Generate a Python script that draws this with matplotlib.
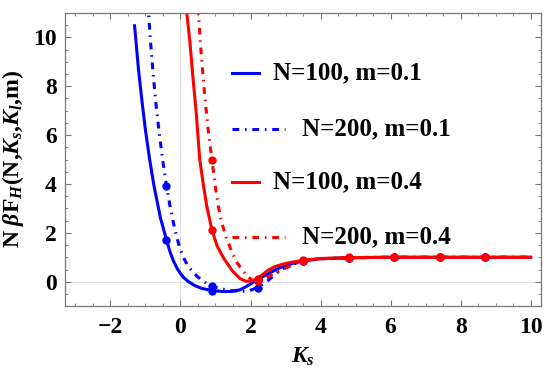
import numpy as np
import matplotlib
matplotlib.use("Agg")
import matplotlib.pyplot as plt
from matplotlib.ticker import MultipleLocator

plt.rcParams['font.family'] = ['Liberation Serif', 'DejaVu Serif']
plt.rcParams['font.weight'] = 'bold'
plt.rcParams['mathtext.fontset'] = 'custom'
plt.rcParams['mathtext.rm'] = 'Liberation Serif:bold'
plt.rcParams['mathtext.it'] = 'Liberation Serif:italic:bold'
plt.rcParams['mathtext.bf'] = 'Liberation Serif:bold'

# curves
ks_b100 = [-1.31, -1.2, -1.1, -1.0, -0.88, -0.76, -0.57, -0.4, -0.3, -0.2, -0.1, 0.0,
           0.1, 0.23, 0.4, 0.6, 0.9, 1.2, 1.45, 1.7, 1.9, 2.1, 2.4, 2.8, 3.2, 3.5,
           4.0, 4.8, 6.0, 10.0]
f_b100 = [10.47, 8.7, 7.4, 6.2, 5.0, 3.95, 2.6, 1.72, 1.23, 0.85, 0.56, 0.33,
          0.16, 0.0, -0.15, -0.27, -0.36, -0.4, -0.4, -0.33, -0.18, 0.0, 0.25, 0.55,
          0.75, 0.85, 0.94, 0.98, 1.0, 1.0]

ks_b200 = [-0.93, -0.86, -0.78, -0.71, -0.6, -0.5, -0.4, -0.3, -0.2, -0.1, -0.02, 0.1,
           0.2, 0.35, 0.49, 0.7, 0.9, 1.2, 1.5, 1.9, 2.2, 2.5, 2.86, 3.2, 3.5, 4.0,
           4.8, 6.0, 10.0]
f_b200 = [11.4, 9.9, 8.5, 7.4, 6.0, 4.9, 3.93, 3.1, 2.4, 1.8, 1.38, 0.95,
          0.68, 0.4, 0.2, -0.02, -0.19, -0.3, -0.37, -0.4, -0.24, 0.05, 0.49, 0.72,
          0.85, 0.94, 0.98, 1.0, 1.0]

ks_r100 = [0.15, 0.27, 0.36, 0.45, 0.55, 0.65, 0.75, 0.9, 1.05, 1.24, 1.48, 1.7, 1.86,
           2.0, 2.2, 2.35, 2.5, 2.7, 3.0, 3.5, 4.0, 4.8, 6.0, 10.0]
f_r100 = [11.4, 9.8, 8.3, 6.9, 5.0, 4.0, 3.1, 2.1, 1.45, 0.95, 0.45, 0.13, 0.02,
          0.03, 0.12, 0.3, 0.47, 0.62, 0.75, 0.88, 0.95, 0.99, 1.0, 1.0]

ks_r200 = [0.5, 0.6, 0.7, 0.8, 0.9, 1.0, 1.08, 1.16, 1.3, 1.48, 1.62, 1.76, 1.9, 2.05,
           2.2, 2.35, 2.5, 2.9, 3.2, 3.5, 4.0, 4.8, 6.0, 10.0]
f_r200 = [11.2, 9.15, 7.5, 6.1, 4.97, 3.85, 3.1, 2.52, 1.82, 1.18, 0.77, 0.49, 0.24, 0.06,
          0.01, 0.08, 0.2, 0.49, 0.7, 0.85, 0.94, 0.99, 1.0, 1.0]

# plot markers
ks_marks = [-0.4, 0.9, 2.2, 3.5, 4.8, 6.1, 7.4, 8.7]
m_b100 = [1.72, -0.36, 0.08, 0.85, 0.98, 1.0, 1.0, 1.0]
m_b200 = [3.93, -0.19, -0.24, 0.85, 0.98, 1.0, 1.0, 1.0]
m_r100 = [np.nan, 2.1, 0.12, 0.88, 1.0, 1.0, 1.0, 1.0]
m_r200 = [np.nan, 4.97, 0.01, 0.85, 0.99, 1.0, 1.0, 1.0]

labels = ['N=100, m=0.1', 'N=200, m=0.1', 'N=100, m=0.4', 'N=200, m=0.4']

BLUE = '#0000ff'
RED = '#ff0000'
dashdot = (0, (2.2, 1.9, 0.5, 1.9))
lw = 2.2

fig = plt.figure(figsize=(5.5, 3.78), dpi=100)
ax = fig.add_axes([0.118, 0.19, 0.866, 0.776])

# light axis lines (mathematica style)
ax.axhline(0, color='#e0e0e0', lw=0.8, zorder=0)
ax.axvline(0, color='#e0e0e0', lw=0.8, zorder=0)

series = [
    (ks_b100, f_b100, m_b100, BLUE, '-'),
    (ks_b200, f_b200, m_b200, BLUE, dashdot),
    (ks_r100, f_r100, m_r100, RED, '-'),
    (ks_r200, f_r200, m_r200, RED, dashdot),
]
for ks, f, mk, col, ls in series:
    ax.plot(ks, f, color=col, lw=lw, ls=ls, zorder=2)
    ax.plot(ks_marks, mk, 'o', color=col, ms=5, zorder=3)

# legend, drawn by hand
leg_y = [0.794, 0.603, 0.424, 0.237]
for i, (ks, f, mk, col, ls) in enumerate(series):
    x1 = 0.408 if ls == '-' else 0.462
    xt = 0.436 if ls == '-' else 0.497
    ax.plot([0.350, x1], [leg_y[i], leg_y[i]], color=col, lw=lw, ls=ls,
            transform=ax.transAxes)
    ax.text(xt, leg_y[i], labels[i], transform=ax.transAxes, fontsize=18,
            fontweight='bold', va='center', ha='left')

ax.set_xlim(-3.3, 10.3)
ax.set_ylim(-1, 11)
ax.xaxis.set_major_locator(MultipleLocator(2))
ax.xaxis.set_minor_locator(MultipleLocator(0.5))
ax.yaxis.set_major_locator(MultipleLocator(2))
ax.yaxis.set_minor_locator(MultipleLocator(0.5))
ax.tick_params(which='both', direction='in', top=True, right=True, color='#777777')
ax.tick_params(which='major', length=4, width=0.8, labelsize=17, pad=6)
ax.tick_params(which='minor', length=2.5, width=0.6)
ax.tick_params(axis='x', which='major', pad=8)
for s in ax.spines.values():
    s.set_color('#777777')
    s.set_linewidth(0.9)
for lab in ax.get_xticklabels() + ax.get_yticklabels():
    lab.set_fontweight('bold')

ax.set_xlabel(r'$K_s$', fontsize=17, labelpad=5)
ax.set_ylabel(r'N $\beta\mathrm{F}_H$(N,$K_s$,$K_l$,m)', fontsize=17,
              fontweight='bold', labelpad=5)

fig.savefig('out.png', dpi=100)
